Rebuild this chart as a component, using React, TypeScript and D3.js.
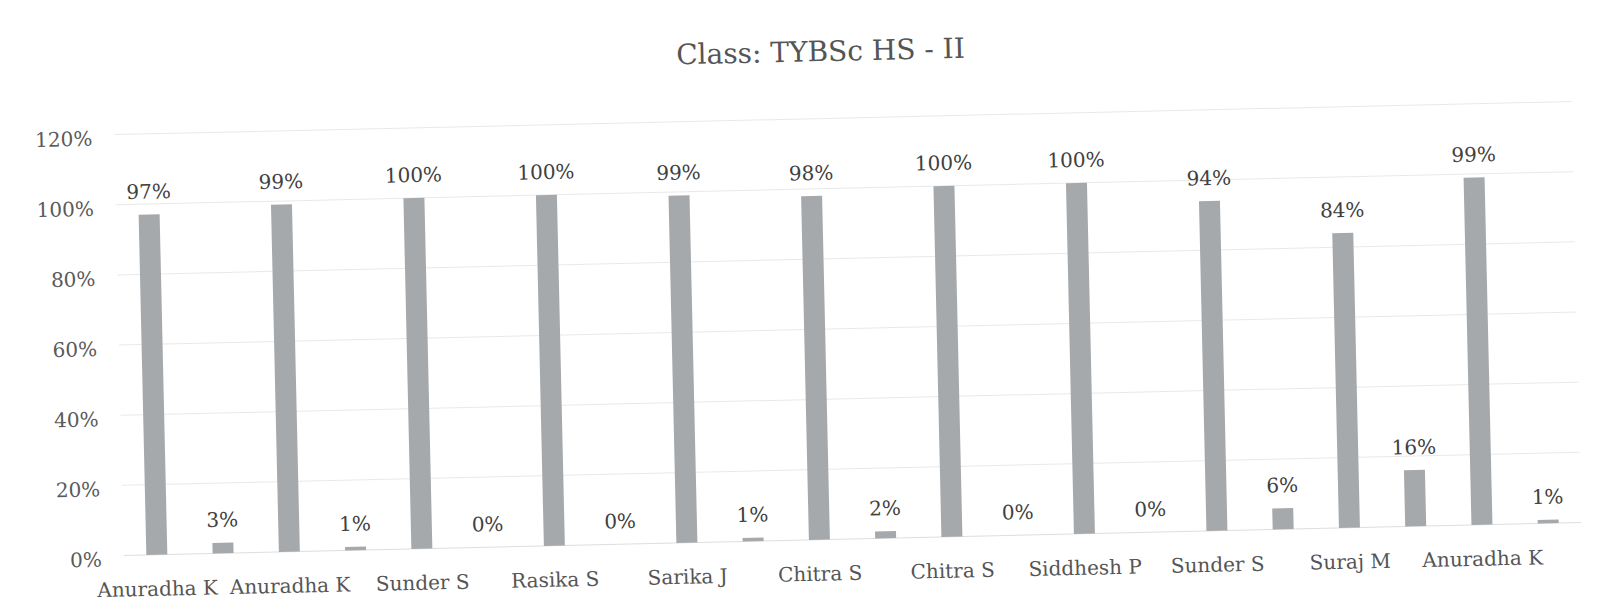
import React from "react";
import * as d3 from "d3";

const categories = ["Anuradha K", "Anuradha K", "Sunder S", "Rasika S", "Sarika J", "Chitra S", "Chitra S", "Siddhesh P", "Sunder S", "Suraj M", "Anuradha K"];
const seriesA = [97, 99, 100, 100, 99, 98, 100, 100, 94, 84, 99];
const seriesB = [3, 1, 0, 0, 1, 2, 0, 0, 6, 16, 1];
const yTicks = [0, 20, 40, 60, 80, 100, 120];
const title = "Class: TYBSc HS - II";

const W = 1610;
const H = 605;
const FONT = "'DejaVu Serif', serif";

export default function App() {
  const x = d3.scaleBand<number>().domain(d3.range(categories.length)).range([119, 1577]).paddingInner(0).paddingOuter(0);
  const y = d3.scaleLinear().domain([0, 120]).range([540, 119]);
  const step = x.bandwidth();
  const barW = 21;
  const offset = step * 0.25;
  const c = (i: number) => (x(i) as number) + step / 2;
  const bars = [
    { vals: seriesA, dx: -offset },
    { vals: seriesB, dx: offset },
  ];
  return (
    <>
      <style>{`body{margin:0;background:#fff}`}</style>
      <svg width={W} height={H} style={{ display: "block", background: "#fff" }}>
        <g transform="rotate(-1.3, 805, 340)">
          <text x={827} y={54} textAnchor="middle" dominantBaseline="middle" fontFamily={FONT} fontSize={28} fill="#555">
            {title}
          </text>
          {yTicks.map((t) => (
            <g key={t}>
              {t > 0 && <line x1={119} x2={1577} y1={y(t)} y2={y(t)} stroke="#e9e9e9" strokeWidth={1} />}
              <text x={97} y={y(t) + 5} textAnchor="end" dominantBaseline="middle" fontFamily={FONT} fontSize={20} fill="#5a5a5a">
                {t}%
              </text>
            </g>
          ))}
          <line x1={119} x2={1577} y1={y(0)} y2={y(0)} stroke="#dedede" strokeWidth={1} />
          {bars.map((s, si) =>
            s.vals.map((v, i) => {
              const cx = c(i) + s.dx;
              return (
                <g key={`${si}-${i}`}>
                  <rect x={cx - barW / 2} y={y(v)} width={barW} height={Math.max(0, y(0) - y(v))} fill="#a6a9ac" />
                  <text x={cx} y={y(v) - 16} textAnchor="middle" fontFamily={FONT} fontSize={20} fill="#404040">
                    {v}%
                  </text>
                </g>
              );
            })
          )}
          {categories.map((cat, i) => (
            <text key={i} x={c(i) - offset} y={581} textAnchor="middle" fontFamily={FONT} fontSize={20} fill="#555">
              {cat}
            </text>
          ))}
        </g>
      </svg>
    </>
  );
}
